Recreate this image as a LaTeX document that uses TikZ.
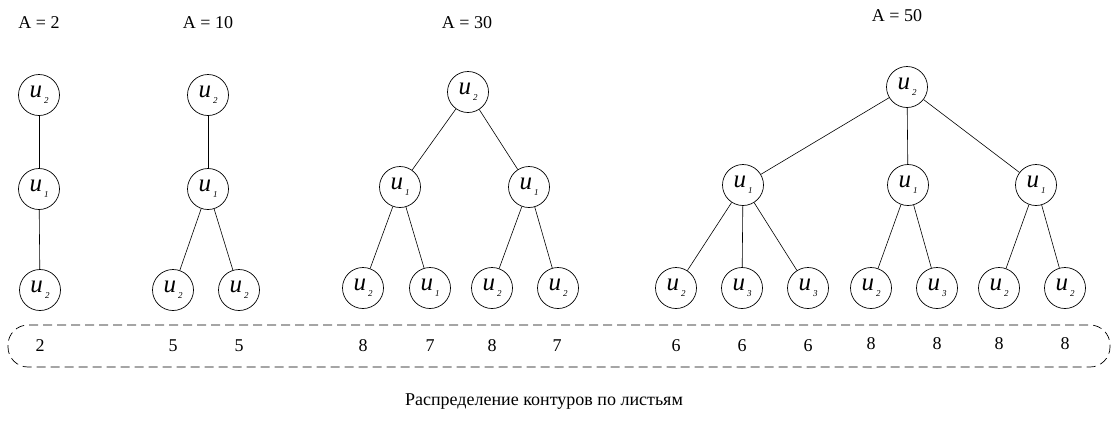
\documentclass[tikz,border=0pt]{standalone}
\usepackage{fontspec}
\setmainfont{Liberation Serif}
\newcommand\uu[1]{\textit{u}\kern2pt\raisebox{-0.5ex}{\fontsize{9}{9}\selectfont\textit{#1}}}
\begin{document}
\begin{tikzpicture}[x=1pt,y=-1pt,
  vert/.style={circle,draw,line width=0.7pt,minimum size=41pt,inner sep=0pt,font=\fontsize{25}{25}\selectfont},
  edge/.style={line width=0.6pt},
  title/.style={font=\fontsize{18}{18}\selectfont},
  num/.style={font=\fontsize{18}{18}\selectfont},
  frame/.style={draw,dashed,dash pattern=on 9pt off 5pt,line width=0.7pt,rounded corners=20pt}]
\useasboundingbox (0,0) rectangle (1113,424);

% titles
\node[title] (t1) at (39,23) {A = 2};
\node[title] (t2) at (208,23) {A = 10};
\node[title] (t3) at (467,23) {A = 30};
\node[title] (t4) at (897,16) {A = 50};

% A = 2
\node[vert] (a1) at (39,95) {\uu{2}};
\node[vert] (a2) at (39,189) {\uu{1}};
\node[vert] (a3) at (40,290) {\uu{2}};
\draw[edge] (a1) -- (a2);
\draw[edge] (a2) -- (a3);

% A = 10
\node[vert] (b1) at (208,95) {\uu{2}};
\node[vert] (b2) at (208,189) {\uu{1}};
\node[vert] (b3) at (173,290) {\uu{2}};
\node[vert] (b4) at (239,290) {\uu{2}};
\draw[edge] (b1) -- (b2);
\draw[edge] (b2) -- (b3);
\draw[edge] (b2) -- (b4);

% A = 30
\node[vert] (c1) at (468,92) {\uu{2}};
\node[vert] (c2) at (400,187) {\uu{1}};
\node[vert] (c3) at (529,187) {\uu{1}};
\node[vert] (c4) at (363,288) {\uu{2}};
\node[vert] (c5) at (430,288) {\uu{1}};
\node[vert] (c6) at (492,288) {\uu{2}};
\node[vert] (c7) at (558,288) {\uu{2}};
\draw[edge] (c1) -- (c2);
\draw[edge] (c1) -- (c3);
\draw[edge] (c2) -- (c4);
\draw[edge] (c2) -- (c5);
\draw[edge] (c3) -- (c6);
\draw[edge] (c3) -- (c7);

% A = 50
\node[vert] (d1) at (907,87) {\uu{2}};
\node[vert] (d2) at (743,185) {\uu{1}};
\node[vert] (d3) at (908,185) {\uu{1}};
\node[vert] (d4) at (1036,185) {\uu{1}};
\node[vert] (d5) at (676,288) {\uu{2}};
\node[vert] (d6) at (742,288) {\uu{3}};
\node[vert] (d7) at (808,288) {\uu{3}};
\node[vert] (d8) at (871,288) {\uu{2}};
\node[vert] (d9) at (937,288) {\uu{3}};
\node[vert] (d10) at (999,288) {\uu{2}};
\node[vert] (d11) at (1065,288) {\uu{2}};
\draw[edge] (d1) -- (d2);
\draw[edge] (d1) -- (d3);
\draw[edge] (d1) -- (d4);
\draw[edge] (d2) -- (d5);
\draw[edge] (d2) -- (d6);
\draw[edge] (d2) -- (d7);
\draw[edge] (d3) -- (d8);
\draw[edge] (d3) -- (d9);
\draw[edge] (d4) -- (d10);
\draw[edge] (d4) -- (d11);

% dashed frame
\draw[frame] (8,325) rectangle (1110,367);

% numbers
\node[num] (n1) at (40,346) {2};
\node[num] (n2) at (173,346) {5};
\node[num] (n3) at (239,346) {5};
\node[num] (n4) at (363,346) {8};
\node[num] (n5) at (430,346) {7};
\node[num] (n6) at (492,346) {8};
\node[num] (n7) at (557,346) {7};
\node[num] (n8) at (676,346) {6};
\node[num] (n9) at (742,346) {6};
\node[num] (n10) at (808,346) {6};
\node[num] (n11) at (871,344) {8};
\node[num] (n12) at (937,344) {8};
\node[num] (n13) at (999,344) {8};
\node[num] (n14) at (1065,344) {8};

% caption
\node[num] (cap) at (544,402) {Распределение контуров по листьям};
\end{tikzpicture}
\end{document}
